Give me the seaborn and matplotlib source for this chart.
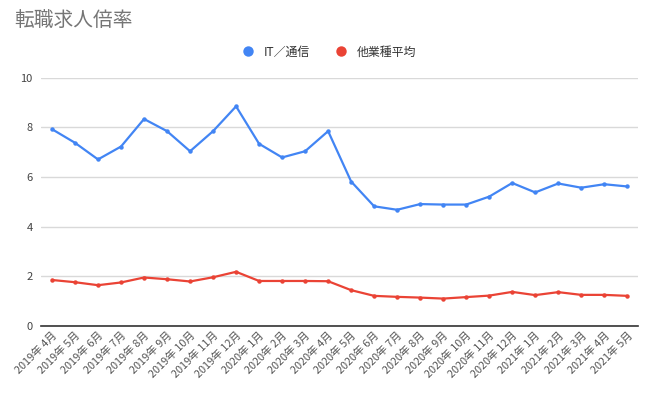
import matplotlib
matplotlib.use('Agg')
import matplotlib.pyplot as plt
from matplotlib.lines import Line2D
import seaborn as sns
import pandas as pd

months = ['2019年 4月', '2019年 5月', '2019年 6月', '2019年 7月', '2019年 8月', '2019年 9月',
          '2019年 10月', '2019年 11月', '2019年 12月', '2020年 1月', '2020年 2月', '2020年 3月',
          '2020年 4月', '2020年 5月', '2020年 6月', '2020年 7月', '2020年 8月', '2020年 9月',
          '2020年 10月', '2020年 11月', '2020年 12月', '2021年 1月', '2021年 2月', '2021年 3月',
          '2021年 4月', '2021年 5月']
it_values = [7.93, 7.38, 6.71, 7.23, 8.34, 7.85, 7.04, 7.85, 8.85, 7.34, 6.79, 7.04, 7.85,
             5.82, 4.82, 4.68, 4.91, 4.89, 4.89, 5.21, 5.76, 5.38, 5.74, 5.57, 5.71, 5.62]
avg_values = [1.85, 1.76, 1.64, 1.75, 1.95, 1.88, 1.79, 1.96, 2.18, 1.81, 1.81, 1.81, 1.80,
              1.44, 1.21, 1.17, 1.14, 1.10, 1.16, 1.22, 1.37, 1.24, 1.36, 1.25, 1.25, 1.21]
series_names = ['IT／通信', '他業種平均']
colors = ['#4285F4', '#EA4335']

sns.set_style('white')
plt.rcParams['font.family'] = ['Noto Sans CJK JP', 'DejaVu Sans']

df = pd.DataFrame({
    'month': list(range(len(months))) * 2,
    'value': it_values + avg_values,
    'series': [series_names[0]] * len(months) + [series_names[1]] * len(months),
})

fig = plt.figure(figsize=(6.5, 3.95), dpi=100)
ax = fig.add_axes([0.063, 0.175, 0.919, 0.628])

sns.lineplot(data=df, x='month', y='value', hue='series', palette=colors,
             marker='o', markersize=3.2, markeredgewidth=0, linewidth=1.6,
             legend=False, ax=ax)

ax.set_xlim(-0.48, len(months) - 0.52)
ax.set_ylim(0, 10)
ax.set_yticks([0, 2, 4, 6, 8, 10])
ax.yaxis.grid(True, color='#d9d9d9', linewidth=1)
ax.set_axisbelow(True)
ax.set_xticks(range(len(months)))
ax.set_xticklabels(months, rotation=45, ha='right', rotation_mode='anchor', fontsize=7.8, color='#555555')
ax.tick_params(axis='x', direction='in', length=9, width=1, color='#333333', pad=3)
ax.tick_params(axis='y', length=0, labelsize=8, labelcolor='#444444', pad=6)
ax.set_xlabel('')
ax.set_ylabel('')
for s in ['top', 'right', 'left']:
    ax.spines[s].set_visible(False)
ax.spines['bottom'].set_color('#333333')
ax.spines['bottom'].set_linewidth(1.2)

fig.text(0.022, 0.947, '転職求人倍率', fontsize=14.2, color='#757575', va='center', ha='left')

handles = [Line2D([0], [0], marker='o', linestyle='', markersize=7.5, markerfacecolor=c, markeredgewidth=0)
           for c in colors]
fig.legend(handles, series_names, loc='center', bbox_to_anchor=(0.502, 0.868), ncol=2, frameon=False,
           fontsize=8.6, labelcolor='#333333', handletextpad=0.3, columnspacing=1.6)

fig.savefig('out.png', dpi=100)
